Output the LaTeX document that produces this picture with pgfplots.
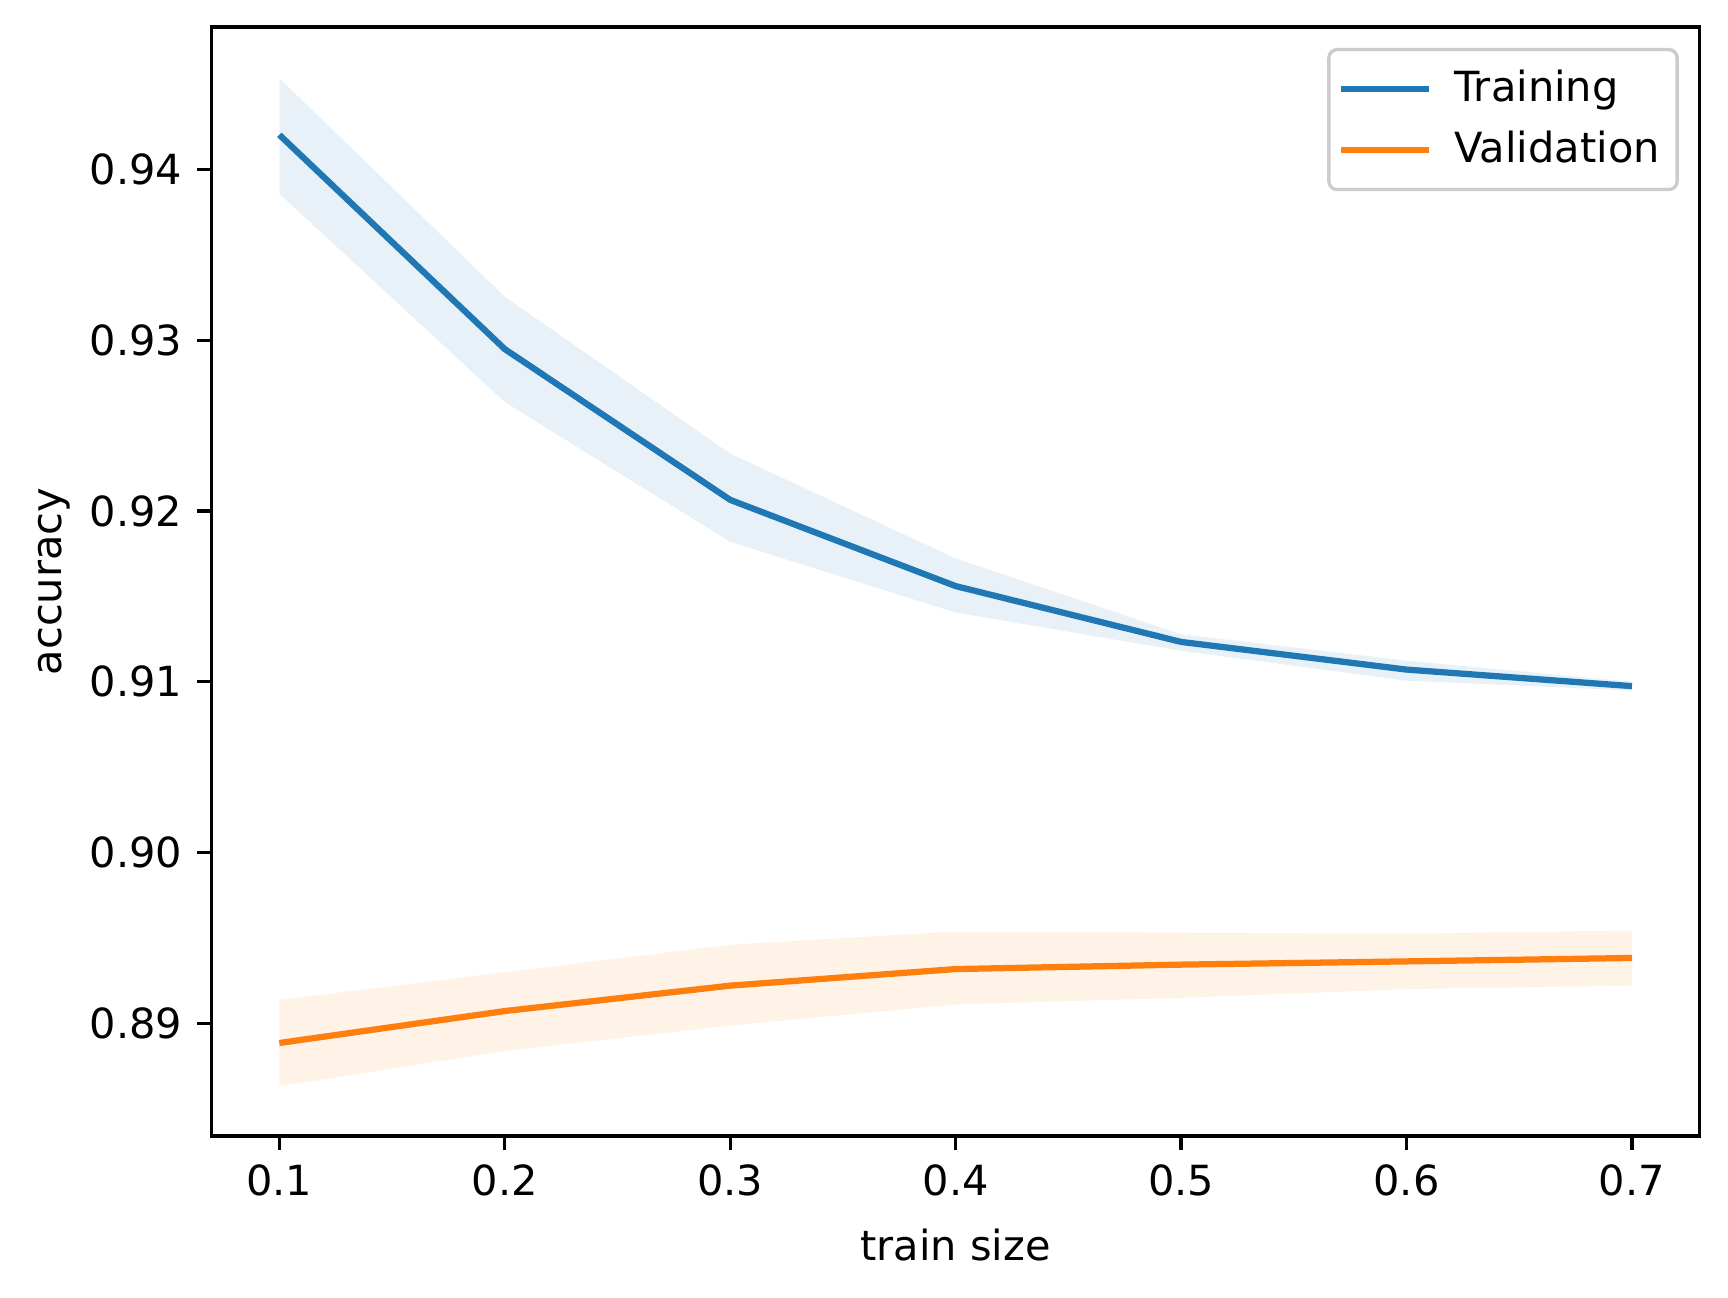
\documentclass[border=0pt]{standalone}
\usepackage{pgfplots}
\pgfplotsset{compat=1.18}
\usepackage{fontspec}
\setmainfont{DejaVu Sans}
\definecolor{C0}{HTML}{1F77B4}
\definecolor{C1}{HTML}{FF7F0E}
\begin{document}
\fontsize{10}{12}\selectfont
\begin{tikzpicture}
\useasboundingbox (-50.8bp,-38.9bp) rectangle (363.9bp,272.6bp);
\begin{axis}[
  at={(0,0)}, anchor=south west,
  scale only axis,
  width=357.1bp, height=266.1bp,
  xmin=0.07, xmax=0.73,
  ymin=0.8834, ymax=0.94834,
  xtick={0.1,0.2,0.3,0.4,0.5,0.6,0.7},
  ytick={0.89,0.90,0.91,0.92,0.93,0.94},
  /pgf/number format/assume math mode=true,
  xticklabel style={/pgf/number format/.cd,fixed,precision=1,fixed zerofill},
  yticklabel style={/pgf/number format/.cd,fixed,precision=2,fixed zerofill},
  scaled ticks=false,
  tick align=outside,
  major tick length=3.5bp,
  tick style={line width=0.8bp, black},
  axis line style={line width=0.8bp},
  xtick pos=bottom, ytick pos=left,
  ticklabel style={font=\fontsize{10}{12}\selectfont},
  label style={font=\fontsize{10}{12}\selectfont},
  xlabel={train size},
  ylabel={accuracy},
  xlabel style={yshift=-1bp},
  ylabel style={yshift=-2bp},
  legend style={at={(rel axis cs:1,1)}, anchor=north east, xshift=-5bp, yshift=-5bp,
    draw=black!20, rounded corners=2bp, line width=0.8bp, fill=white, fill opacity=0.8, text opacity=1,
    font=\fontsize{10}{12}\selectfont, inner xsep=2.2bp, inner ysep=3bp, row sep=1.5bp,
    /tikz/every odd column/.append style={column sep=3.5bp}},
  legend cell align=left,
  legend image code/.code={\draw[#1] (0bp,0bp) -- (21bp,0bp);},
]
\addplot[forget plot, draw=none, fill=C0, fill opacity=0.1] coordinates {
 (0.1,0.94535) (0.2,0.93255) (0.3,0.92336) (0.4,0.91722) (0.5,0.91278) (0.6,0.91123) (0.7,0.91000)
 (0.7,0.90948) (0.6,0.91006) (0.5,0.91181) (0.4,0.91405) (0.3,0.91819) (0.2,0.92638) (0.1,0.93858)
} -- cycle;
\addplot[forget plot, draw=none, fill=C1, fill opacity=0.1] coordinates {
 (0.1,0.89136) (0.2,0.89298) (0.3,0.89459) (0.4,0.89537) (0.5,0.89530) (0.6,0.89524) (0.7,0.89543)
 (0.7,0.89220) (0.6,0.89200) (0.5,0.89149) (0.4,0.89110) (0.3,0.88987) (0.2,0.88838) (0.1,0.88631)
} -- cycle;
\addplot[C0, line width=1.5bp] coordinates {
 (0.1,0.94203) (0.2,0.92948) (0.3,0.92065) (0.4,0.91560) (0.5,0.91233) (0.6,0.91071) (0.7,0.90974)
};
\addlegendentry{Training}
\addplot[C1, line width=1.5bp] coordinates {
 (0.1,0.88884) (0.2,0.89071) (0.3,0.89220) (0.4,0.89317) (0.5,0.89343) (0.6,0.89362) (0.7,0.89382)
};
\addlegendentry{Validation}
\end{axis}
\end{tikzpicture}
\end{document}
